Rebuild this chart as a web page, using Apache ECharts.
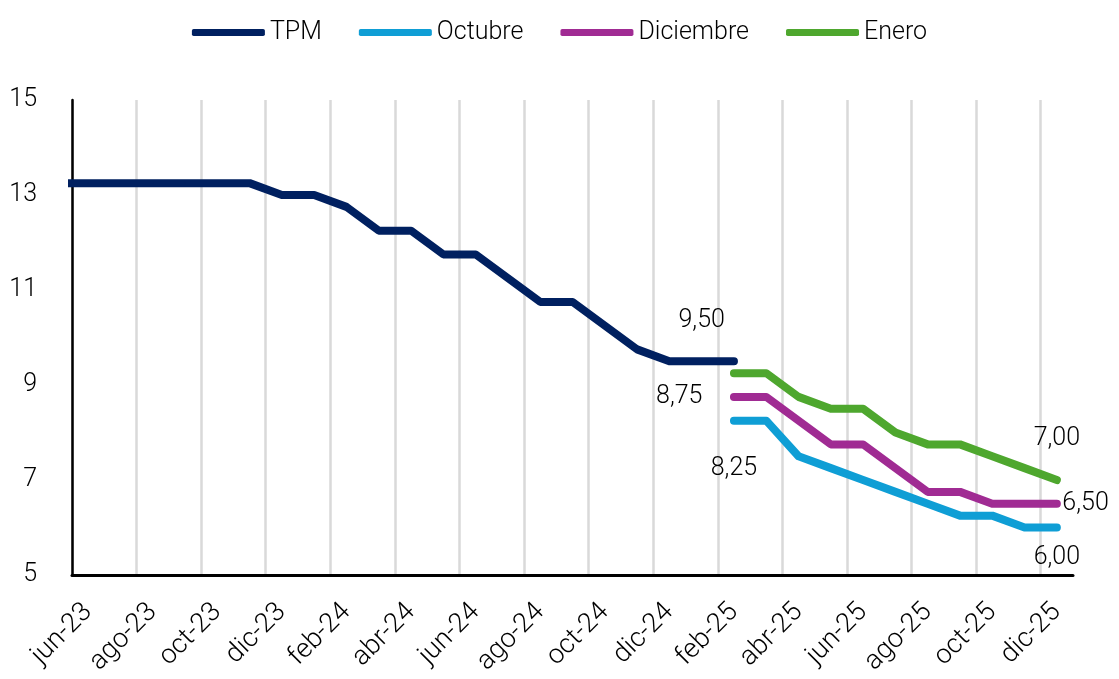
<!DOCTYPE html>
<html><head><meta charset="utf-8">
<script src="https://cdn.jsdelivr.net/npm/echarts@6/dist/echarts.min.js"></script>
<style>html,body{margin:0;padding:0;background:#fff}#c{width:1119px;height:679px}</style>
</head><body><div id="c"></div><script>
const categories = ['may-23','jun-23','jul-23','ago-23','sep-23','oct-23','nov-23','dic-23',
  'ene-24','feb-24','mar-24','abr-24','may-24','jun-24','jul-24','ago-24','sep-24','oct-24','nov-24','dic-24',
  'ene-25','feb-25','mar-25','abr-25','may-25','jun-25','jul-25','ago-25','sep-25','oct-25','nov-25','dic-25'];
const firstShown = 'jun-23';
const tpm = [13.25,13.25,13.25,13.25,13.25,13.25,13.25,13.00,13.00,12.75,12.25,12.25,11.75,11.75,11.25,10.75,10.75,10.25,9.75,9.50,9.50,9.50];
const forecastStart = 'feb-25';
const octubre   = [8.25,8.25,7.50,7.25,7.00,6.75,6.50,6.25,6.25,6.00,6.00];
const diciembre = [8.75,8.75,8.25,7.75,7.75,7.25,6.75,6.75,6.50,6.50,6.50];
const enero     = [9.25,9.25,8.75,8.50,8.50,8.00,7.75,7.75,7.50,7.25,7.00];
const yTicks = [5,7,9,11,13,15];

const FONT = 'Roboto';
const fmt = v => (Array.isArray(v.value) ? v.value[1] : v.value).toFixed(2).replace('.', ',');
const startIdx = categories.indexOf(forecastStart);
const lastIdx = categories.length - 1;
const minIdx = categories.indexOf(firstShown);
const everyOther = (index) => (index - minIdx) >= 0 && (index - minIdx) % 2 === 0;

function build(values, offset, labels) {
  const out = categories.map(() => null);
  values.forEach((v, i) => { out[offset + i] = v; });
  return out.map((v, i) => {
    if (v === null) return null;
    const lab = labels[i];
    if (!lab) return v;
    return { value: v, label: Object.assign({ show: true, formatter: fmt, fontSize: 25, fontFamily: FONT, fontWeight: 300, color: '#000' }, lab) };
  });
}

const tpmData = build(tpm, 0, { [categories.indexOf('ene-25')]: { position: 'top', distance: 28 } });
const octData = build(octubre, startIdx, { [startIdx]: { position: 'bottom', distance: 35 }, [lastIdx]: { position: 'bottom', distance: 17 } });
const dicData = build(diciembre, startIdx, { [startIdx]: { position: 'left', distance: 31 }, [lastIdx]: { position: 'right', distance: 5 } });
const eneData = build(enero, startIdx, { [lastIdx]: { position: 'top', distance: 28 } });

function series(name, color, data) {
  return {
    name, type: 'line', data, color,
    symbol: 'circle', symbolSize: 1, showSymbol: true,
    itemStyle: { color },
    lineStyle: { color, width: 8, cap: 'round', join: 'round' },
    label: { show: false },
    emphasis: { disabled: true },
    clip: true,
    silent: true
  };
}

const chart = echarts.init(document.getElementById('c'), null, { renderer: 'canvas' });
chart.setOption({
  animation: false,
  backgroundColor: '#fff',
  textStyle: { fontFamily: FONT },
  legend: {
    top: 15, left: 'center',
    icon: 'roundRect', itemWidth: 73, itemHeight: 7, itemGap: 37,
    textStyle: { fontSize: 25, fontFamily: FONT, fontWeight: 300, color: '#000' },
    data: ['TPM', 'Octubre', 'Diciembre', 'Enero']
  },
  grid: { left: 72, right: 46, top: 100, bottom: 104 },
  xAxis: {
    type: 'category', data: categories, boundaryGap: true,
    min: minIdx,
    axisLine: { lineStyle: { color: '#000', width: 3 } },
    axisTick: { show: false, interval: everyOther },
    axisLabel: { interval: everyOther, rotate: 45, fontSize: 27, fontFamily: FONT, fontWeight: 300, color: '#000', margin: 33 },
    splitLine: { show: true, interval: everyOther, showMaxLine: false, lineStyle: { color: '#d9d9d9', width: 2.5 } }
  },
  yAxis: {
    type: 'value', min: yTicks[0], max: yTicks[yTicks.length - 1], interval: yTicks[1] - yTicks[0],
    axisLine: { show: true, lineStyle: { color: '#000', width: 2.5 } },
    axisTick: { show: false },
    splitLine: { show: false },
    axisLabel: { fontSize: 25, fontFamily: FONT, fontWeight: 300, color: '#000', margin: 35 }
  },
  series: [
    series('TPM', '#002060', tpmData),
    series('Octubre', '#0F9ED5', octData),
    series('Diciembre', '#A02B93', dicData),
    series('Enero', '#4EA72E', eneData)
  ]
});
</script></body></html>
